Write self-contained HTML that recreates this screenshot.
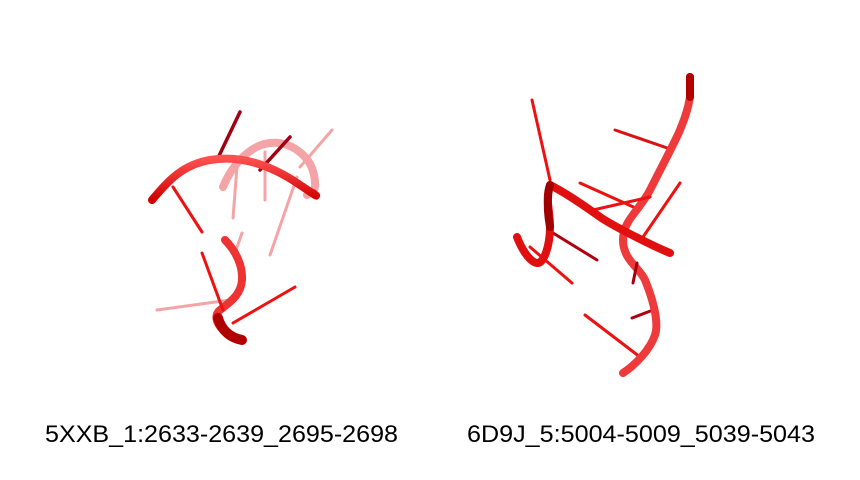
<!DOCTYPE html>
<html><head><meta charset="utf-8"><style>
html,body{margin:0;padding:0;background:#fff;width:860px;height:480px;overflow:hidden}
svg{display:block}
text{font-family:"Liberation Sans",sans-serif;font-size:24px;fill:#000}
</style></head><body>
<svg width="860" height="480">
<defs>
<linearGradient id="tube" x1="0" y1="0" x2="0" y2="1"><stop offset="0" stop-color="#ff5050"/><stop offset="1" stop-color="#d00000"/></linearGradient>
</defs>
<g fill="none" stroke-linecap="round" stroke-linejoin="round">
 <g opacity="0.45" stroke="#e8383c">
  <path d="M223,187 C232,165 250,145 270,143 S310,155 314,175 S310,192 307,195" stroke-width="8"/>
  <line x1="332" y1="130" x2="300" y2="167" stroke-width="3"/>
  <line x1="265" y1="152" x2="265" y2="200" stroke-width="3"/>
  <line x1="237" y1="167" x2="233" y2="218" stroke-width="3"/>
  <line x1="297" y1="177" x2="270" y2="255" stroke-width="3"/>
  <line x1="157" y1="310" x2="230" y2="300" stroke-width="3"/>
  <line x1="242" y1="233" x2="235" y2="253" stroke-width="3"/>
 </g>
 <line x1="240" y1="112" x2="217" y2="160" stroke="#a00010" stroke-width="3.5"/>
 <line x1="290" y1="137" x2="260" y2="170" stroke="#a00010" stroke-width="3.5"/>
 <path d="M152,200 C165,185 180,165 210,160 S270,165 297,183 S315,195 313,193" stroke="url(#tube)" stroke-width="8"/>
 <line x1="173" y1="187" x2="202" y2="232" stroke="#ee1111" stroke-width="3"/>
 <path d="M225,240 C235,250 243,265 242,280 S230,302 220,310 S222,335 242,340" stroke="#ee3333" stroke-width="8"/>
 <path d="M218,318 C222,332 232,338 242,340" stroke="#b00000" stroke-width="10"/>
 <line x1="202" y1="253" x2="223" y2="310" stroke="#ee1111" stroke-width="3"/>
 <line x1="295" y1="287" x2="233" y2="323" stroke="#ee1111" stroke-width="3"/>
</g>
<g fill="none" stroke-linecap="round" stroke-linejoin="round">
 <line x1="532" y1="100" x2="550" y2="180" stroke="#ee1111" stroke-width="3"/>
 <line x1="615" y1="130" x2="673" y2="150" stroke="#dd1111" stroke-width="3"/>
 <line x1="580" y1="183" x2="640" y2="210" stroke="#ee1111" stroke-width="3"/>
 <line x1="553" y1="233" x2="597" y2="260" stroke="#b00010" stroke-width="3"/>
 <line x1="530" y1="247" x2="572" y2="283" stroke="#ee1111" stroke-width="3"/>
 <line x1="585" y1="315" x2="640" y2="357" stroke="#ee1111" stroke-width="3"/>
 <line x1="653" y1="310" x2="632" y2="318" stroke="#b00010" stroke-width="3"/>
 <path d="M690,77 L690,97 C688,110 684,120 680,130 S660,170 650,190 S623,220 623,240 S640,268 645,280 S660,320 655,335 S635,365 623,373" stroke="#ee3a3a" stroke-width="8"/>
 <line x1="690" y1="77" x2="690" y2="97" stroke="#b00000" stroke-width="8"/>
 <line x1="637" y1="263" x2="633" y2="283" stroke="#a00010" stroke-width="3"/>
 <line x1="593" y1="210" x2="650" y2="197" stroke="#ee1111" stroke-width="3"/>
 <line x1="680" y1="183" x2="643" y2="237" stroke="#ee1111" stroke-width="3"/>
 <path d="M517,237 C522,250 530,262 537,263 S550,245 550,227 S545,200 550,185 C570,195 590,210 600,217 S650,245 670,253" stroke="#e01010" stroke-width="8"/>
 <path d="M550,185 S545,200 550,227" stroke="#a00000" stroke-width="8"/>
</g>
<text x="45" y="442" textLength="353" lengthAdjust="spacingAndGlyphs">5XXB_1:2633-2639_2695-2698</text>
<text x="467" y="442" textLength="348" lengthAdjust="spacingAndGlyphs">6D9J_5:5004-5009_5039-5043</text>
</svg>
</body></html>
